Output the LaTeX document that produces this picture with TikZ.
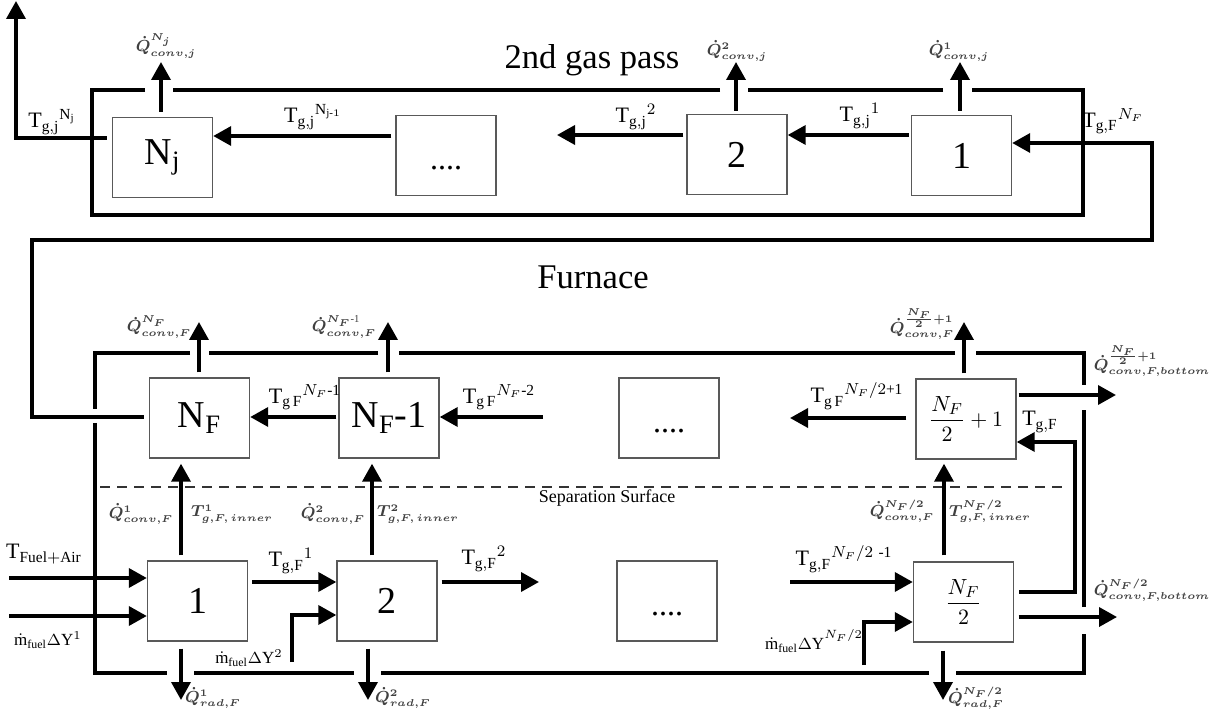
\documentclass[tikz,border=0pt]{standalone}
\usepackage{amsmath}
\usepackage{fontspec}
\setmainfont{Liberation Serif}
\usetikzlibrary{arrows.meta,calc}
\begin{document}
\begin{tikzpicture}[x=0.5pt,y=-0.5pt,
  frame/.style={line width=1.6pt},
  arr/.style={line width=1.8pt,-{Triangle[length=9pt,width=9.5pt]}},
  blk/.style={draw=black!65,line width=0.7pt,minimum width=50pt,minimum height=40pt,inner sep=0pt,font=\fontsize{19}{20}\selectfont},
  dots/.style={text height=14.5pt,text depth=0pt,font=\fontsize{16}{16}\selectfont},
  fracbox/.style={font=\fontsize{11}{12}\selectfont},
  tl/.style={font=\fontsize{11}{12}\selectfont,inner sep=0pt},
  ml/.style={font=\fontsize{8.5}{10}\selectfont,inner sep=0pt},
  ql/.style={font=\fontsize{7.6}{9}\selectfont\boldmath,text=black!75,inner sep=0pt},
  title/.style={font=\fontsize{17.3}{18}\selectfont,inner sep=0pt},
  seplabel/.style={font=\fontsize{9}{10}\selectfont,inner sep=0pt},
  sepline/.style={dash pattern=on 5pt off 3.5pt,line width=0.6pt,draw=black!80}]
\useasboundingbox (0,0) rectangle (1215,721);

% ---------- titles
\node[title] (t2) at (592,60) {2nd gas pass};
\node[title] (tf) at (593,277) {Furnace};

% ---------- blocks
\node[blk] (nj) at (162.5,157.5) {N$_{\mathrm{j}}$};
\node[blk,dots] (d1) at (446,155.5) {....};
\node[blk] (b2) at (737,154.5) {2};
\node[blk] (b1) at (961.5,155.5) {1};

\node[blk] (nf) at (199.5,418) {N$_{\mathrm{F}}$};
\node[blk] (nf1) at (389,418) {N$_{\mathrm{F}}$-1};
\node[blk,dots] (d2) at (669,418) {....};
\node[blk,fracbox] (nh1) at (966,419) {$\displaystyle\frac{N_F}{2}+1$};

\node[blk] (l1) at (197.5,601) {1};
\node[blk] (l2) at (387,601) {2};
\node[blk,dots] (d3) at (667,601) {....};
\node[blk,fracbox] (lh) at (963.5,602) {$\displaystyle\frac{N_F}{2}$};

% ---------- frames
\draw[frame] (145,90) -- (92,90) -- (92,215) -- (1083,215) -- (1083,90) -- (972,90);
\draw[frame] (943,90) -- (748,90);
\draw[frame] (720,90) -- (173,90);

\draw[frame] (190,353) -- (95,353) -- (95,409);
\draw[frame] (95,423) -- (95,673) -- (167,673);
\draw[frame] (194,673) -- (354,673);
\draw[frame] (381,673) -- (929,673);
\draw[frame] (956,673) -- (1084,673) -- (1084,634);
\draw[frame] (1084,607) -- (1084,410);
\draw[frame] (1084,385) -- (1084,353) -- (976,353);
\draw[frame] (955,353) -- (399,353);
\draw[frame] (378,353) -- (209,353);

\draw[sepline] (100,487) -- (1068,487);
\node[seplabel] (sl) at (607,498) {Separation Surface};

% ---------- free ends and corners
\coordinate (e1) at (557,135);
\coordinate (e2) at (543,417);
\coordinate (e3) at (790,418);
\coordinate (e4) at (539,582);
\coordinate (e5) at (790,582);
\coordinate (in1) at (9,578);
\coordinate (in2) at (9,616);
\coordinate (m2) at (292,662);
\coordinate (mh) at (864,665);
\coordinate (out) at (16,1);
\coordinate (k1) at (32,240);
\coordinate (k2) at (1152,143);
\coordinate (k3) at (1075,442);
\coordinate (qo1) at (1116,395);
\coordinate (qo2) at (1117,617);
\coordinate (qj) at (161,62);
\coordinate (q2) at (736,62);
\coordinate (q1) at (960,62);
\coordinate (qf) at (199,322);
\coordinate (qf1) at (388,322);
\coordinate (qh) at (964,322);
\coordinate (r1) at (181,700);
\coordinate (r2) at (368,700);
\coordinate (rh) at (943,700);

% ---------- 2nd gas pass connectors
\draw[arr] ([shift={(-2,-20.5)}]b1.west) -- ([shift={(0,-19.5)}]b2.east);
\draw[arr] ([shift={(-3,-19.5)}]b2.west) -- (e1);
\draw[arr] ([shift={(-4,-19.5)}]d1.west) -- ([shift={(0,-21.5)}]nj.east);
\draw[arr] ([shift={(-5,-19.5)}]nj.west) -| (out);
\draw[arr] ([shift={(-1.5,-5)}]nj.north) -- (qj);
\draw[arr] ([shift={(-1,-3)}]b2.north) -- (q2);
\draw[arr] ([shift={(-1.5,-4)}]b1.north) -- (q1);

% furnace exit to 2nd pass
\draw[arr] ([shift={(-5,-1)}]nf.west) -| (k1) -| (k2) -- ([shift={(0,-12.5)}]b1.east);

% ---------- furnace upper row
\draw[arr] ([shift={(-2,-1)}]nf1.west) -- ([shift={(0,-1)}]nf.east);
\draw[arr] (e2) -- ([shift={(0,-1)}]nf1.east);
\draw[arr] ([shift={(-9,-1)}]nh1.west) -- (e3);
\draw[arr] ([shift={(-0.5,-5)}]nf.north) -- (qf);
\draw[arr] ([shift={(-1,-5)}]nf1.north) -- (qf1);
\draw[arr] ([shift={(-2,-5)}]nh1.north) -- (qh);
\draw[arr] ([shift={(2,-24)}]nh1.east) -- (qo1);
\draw[arr] ([shift={(5,-10)}]lh.east) -| (k3) -- ([shift={(0,23)}]nh1.east);

% ---------- lower row
\draw[arr] (in1) -- ([shift={(0,-23)}]l1.west);
\draw[arr] (in2) -- ([shift={(0,15)}]l1.west);
\draw[arr] ([shift={(4,-19)}]l1.east) -- ([shift={(0,-19)}]l2.west);
\draw[arr] ([shift={(4,-19)}]l2.east) -- (e4);
\draw[arr] (e5) -- ([shift={(0,-20)}]lh.west);
\draw[arr] (m2) |- ([shift={(0,14)}]l2.west);
\draw[arr] (mh) |- ([shift={(0,20)}]lh.west);
\draw[arr] ([shift={(-16.5,-5)}]l1.north) -- ([shift={(-18.5,5)}]nf.south);
\draw[arr] ([shift={(-15,-5)}]l2.north) -- ([shift={(-17,5)}]nf1.south);
\draw[arr] ([shift={(-19.5,-6)}]lh.north) -- ([shift={(-22,4)}]nh1.south);
\draw[arr] ([shift={(-16.5,7)}]l1.south) -- (r1);
\draw[arr] ([shift={(-19,7)}]l2.south) -- (r2);
\draw[arr] ([shift={(-20.5,8)}]lh.south) -- (rh);
\draw[arr] ([shift={(4.5,15)}]lh.east) -- (qo2);

% ---------- labels, 2nd gas pass
\node[tl] (lTout) at (52,122) {${\mathrm{T}_{\mathrm{g,j}}}^{\mathrm{N}_{\mathrm{j}}}$};
\node[tl] (lTnj1) at (313,117) {${\mathrm{T}_{\mathrm{g,j}}}^{\mathrm{N}_{\mathrm{j}\text{-}1}}$};
\node[tl] (lT2) at (636,117) {${\mathrm{T}_{\mathrm{g,j}}}^{2}$};
\node[tl] (lT1) at (860,116) {${\mathrm{T}_{\mathrm{g,j}}}^{1}$};
\node[tl] (lTNF) at (1113,121) {${\mathrm{T}_{\mathrm{g,F}}}^{N_F}$};
\node[ql] (qlj) at (166,46) {$\dot{Q}^{N_j}_{conv,j}$};
\node[ql] (ql2) at (737,51) {$\dot{Q}^{2}_{conv,j}$};
\node[ql] (ql1) at (959,51) {$\dot{Q}^{1}_{conv,j}$};

% ---------- labels, furnace upper
\node[ql] (qlf) at (159,327) {$\dot{Q}^{N_F}_{conv,F}$};
\node[ql] (qlf1) at (344,327) {$\dot{Q}^{N_F\text{-1}}_{conv,F}$};
\node[ql] (qlh) at (922,324) {$\dot{Q}^{\frac{N_F}{2}+1}_{conv,F}$};
\node[ql] (qlb1) at (1152,361) {$\dot{Q}^{\frac{N_F}{2}+1}_{conv,F,bottom}$};
\node[tl] (lTf1) at (305,397) {${\mathrm{T}_{\mathrm{g\,F}}}^{N_F\text{-1}}$};
\node[tl] (lTf2) at (499,397) {${\mathrm{T}_{\mathrm{g\,F}}}^{N_F\text{-2}}$};
\node[tl] (lTh) at (857,396) {${\mathrm{T}_{\mathrm{g\,F}}}^{N_F/2\text{+1}}$};
\node[tl] (lTgF) at (1040,422) {$\mathrm{T}_{\mathrm{g,F}}$};

% ---------- labels, furnace lower
\node[ql] (ql1c) at (141,514) {$\dot{Q}^{1}_{conv,F}$};
\node[ql] (lTi1) at (232,514) {$T^{1}_{g,F,\,inner}$};
\node[ql] (ql2c) at (333,514) {$\dot{Q}^{2}_{conv,F}$};
\node[ql] (lTi2) at (418,514) {$T^{2}_{g,F,\,inner}$};
\node[ql] (qlhc) at (902,511) {$\dot{Q}^{N_F/2}_{conv,F}$};
\node[ql] (lTih) at (990,511) {$T^{N_F/2}_{g,F,\,inner}$};
\node[tl] (lTfa) at (44,554) {$\mathrm{T}_{\mathrm{Fuel+Air}}$};
\node[ml] (lm1) at (48,640) {$\dot{\mathrm{m}}_{\mathrm{fuel}}\Delta\mathrm{Y}^{1}$};
\node[tl] (lTg1) at (291,561) {${\mathrm{T}_{\mathrm{g,F}}}^{1}$};
\node[tl] (lTg2) at (484,559) {${\mathrm{T}_{\mathrm{g,F}}}^{2}$};
\node[tl] (lTgh) at (844,559) {${\mathrm{T}_{\mathrm{g,F}}}^{N_F/2\ \text{-1}}$};
\node[ml] (lm2) at (249,658) {$\dot{\mathrm{m}}_{\mathrm{fuel}}\Delta\mathrm{Y}^{2}$};
\node[ml] (lmh) at (814,641) {$\dot{\mathrm{m}}_{\mathrm{fuel}}\Delta\mathrm{Y}^{\raisebox{2.5pt}{$\scriptstyle N_F/2$}}$};
\node[ql] (qlr1) at (213,698) {$\dot{Q}^{1}_{rad,F}$};
\node[ql] (qlr2) at (403,698) {$\dot{Q}^{2}_{rad,F}$};
\node[ql] (qlrh) at (976,698) {$\dot{Q}^{N_F/2}_{rad,F}$};
\node[ql] (qlb2) at (1152,590) {$\dot{Q}^{N_F/2}_{conv,F,bottom}$};
\end{tikzpicture}
\end{document}
